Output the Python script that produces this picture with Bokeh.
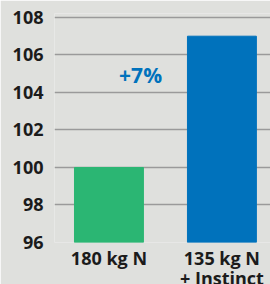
from bokeh.plotting import figure
from bokeh.models import Range1d, FixedTicker, Label
from bokeh.embed import file_html
from bokeh.resources import INLINE

categories = ["180 kg N", "135 kg N\n+ Instinct"]
values = [100, 107]
colors = ["#2bb673", "#0072bc"]
y_ticks = [96, 98, 100, 102, 104, 106, 108]
annotation = "+7%"

BG = "#dfe0dd"
FONT = "Open Sans"
xs = list(range(len(categories)))

p = figure(frame_width=216, frame_height=229, output_backend="svg", toolbar_location=None,
           x_range=Range1d(-0.482, 1.43), y_range=Range1d(96, 108.21),
           min_border_left=54, min_border_right=0, min_border_top=13, min_border_bottom=30)
p.background_fill_color = BG
p.border_fill_color = BG
p.outline_line_color = None

p.vbar(x=xs, top=values, bottom=96, width=0.61, color=colors)

p.xgrid.visible = False
p.ygrid.ticker = FixedTicker(ticks=y_ticks)
p.ygrid.grid_line_color = "#9a9a9a"
p.ygrid.grid_line_width = 1.5
p.ygrid.level = "underlay"

p.yaxis.ticker = FixedTicker(ticks=y_ticks)
p.yaxis.axis_line_color = None
p.yaxis.major_tick_line_color = None
p.yaxis.minor_tick_line_color = None
p.yaxis.major_label_text_font = FONT
p.yaxis.major_label_text_font_style = "bold"
p.yaxis.major_label_text_font_size = "18px"
p.yaxis.major_label_text_color = "#1b1b1b"
p.yaxis.major_label_standoff = 5

p.xaxis.ticker = FixedTicker(ticks=xs)
p.xaxis.major_label_overrides = {i: c for i, c in zip(xs, categories)}
p.xaxis.axis_line_color = None
p.xaxis.major_tick_line_color = None
p.xaxis.minor_tick_line_color = None
p.xaxis.major_label_text_font = FONT
p.xaxis.major_label_text_font_style = "bold"
p.xaxis.major_label_text_font_size = "18px"
p.xaxis.major_label_text_color = "#1b1b1b"
p.xaxis.major_label_text_line_height = 0.85
p.xaxis.major_label_standoff = -3

p.add_layout(Label(x=0.28, y=104.93, text=annotation, text_font=FONT,
                   text_font_style="bold", text_font_size="21px",
                   text_color="#0072bc", text_align="center", text_baseline="middle"))

html = file_html(p, INLINE)
html = html.replace("<body>", '<body style="background-color:%s; overflow:hidden">' % BG, 1)
open("out.html", "w").write(html)
